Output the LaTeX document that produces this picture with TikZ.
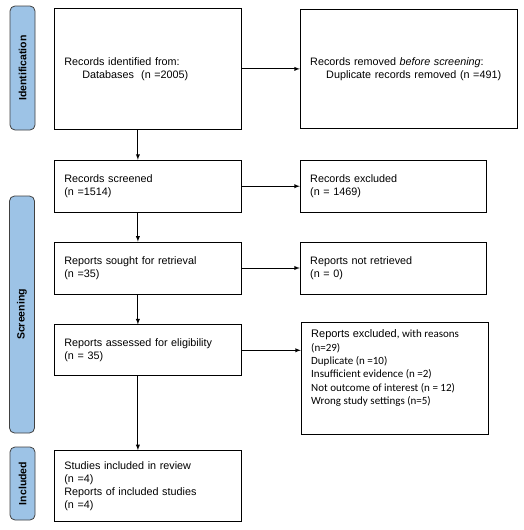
\documentclass[tikz,border=0pt]{standalone}
\usepackage{fontspec}
\setmainfont{Liberation Sans}
\newfontfamily\calibri{Carlito}
\usetikzlibrary{shapes,arrows,positioning}
\definecolor{phaseblue}{RGB}{157,195,230}
\tikzstyle{box} = [rectangle, draw=black, line width=0.8pt, minimum width=187pt, align=left, inner xsep=10pt, font=\fontsize{10.8}{13}\selectfont]
\tikzstyle{phase} = [rectangle, rounded corners=5pt, draw=black!75, line width=0.8pt, fill=phaseblue, minimum height=25pt, rotate=90, font=\bfseries\fontsize{10.5}{13}\selectfont]
\tikzstyle{arrow} = [line width=0.9pt,->,>=latex]

\begin{document}
\begin{tikzpicture}[x=1pt, y=1pt, node distance=30pt]
        \useasboundingbox (0,0) rectangle (524,-530);
        % phase bars
        \node (idphase) [phase, minimum width=124pt] at (22.5,-68) {Identification};
        \node (scphase) [phase, minimum width=237pt] at (22,-314.5) {Screening};
        \node (inphase) [phase, minimum width=73pt] at (22.5,-483.5) {Included};
        % left column
        \node (ident) [box, text width=167pt, minimum height=121pt, anchor=north west] at (54,-8) {Records identified from:\\\hspace*{18pt}Databases\ \ (n =2005)};
        \node (screened) [box, text width=167pt, minimum height=52pt, below=30pt of ident] {Records screened\\(n =1514)};
        \node (sought) [box, text width=167pt, minimum height=52pt, below=29pt of screened] {Reports sought for retrieval\\(n =35)};
        \node (assessed) [box, text width=167pt, minimum height=51pt, below=30pt of sought] {Reports assessed for eligibility\\(n = 35)};
        \node (included) [box, text width=167pt, minimum height=71pt, below=74pt of assessed] {Studies included in review\\(n =4)\\Reports of included studies\\(n =4)};
        % right column
        \node (removed) [box, text width=197pt, minimum width=215pt, minimum height=119pt, right=58pt of ident] {Records removed \textit{before screening}:\\\hspace*{16pt}Duplicate records removed\ (n =491)};
        \node (recexcl) [box, text width=166pt, minimum width=186pt, minimum height=52pt, right=58pt of screened] {Records excluded\\(n =\ 1469)};
        \node (notret) [box, text width=166pt, minimum width=186pt, minimum height=52pt, right=58pt of sought] {Reports not retrieved\\(n = 0)};
        \node (repexcl) [box, inner ysep=7pt, right=59pt of assessed.north east, anchor=north west, yshift=2pt] {\parbox[t][98pt][t]{167pt}{\fontsize{11}{13.4}\selectfont Reports excluded\calibri, with reasons\\(n=29)\\Duplicate (n =10)\\Insufficient evidence (n =2)\\Not outcome of interest (n = 12)\\Wrong study settings (n=5)}};
        % arrows
        \draw [arrow] ([xshift=-10pt]ident.south) -- ([xshift=-10pt]screened.north);
        \draw [arrow] ([xshift=-10pt]screened.south) -- ([xshift=-10pt]sought.north);
        \draw [arrow] ([xshift=-10pt]sought.south) -- ([xshift=-10pt]assessed.north);
        \draw [arrow] ([xshift=-10pt]assessed.south) -- ([xshift=-10pt]included.north);
        \draw [arrow] (ident.east) -- (removed.west);
        \draw [arrow] (screened.east) -- (recexcl.west);
        \draw [arrow] (sought.east) -- (notret.west);
        \draw [arrow] (assessed.east) -- (assessed.east -| repexcl.west);
    \end{tikzpicture}
\end{document}
